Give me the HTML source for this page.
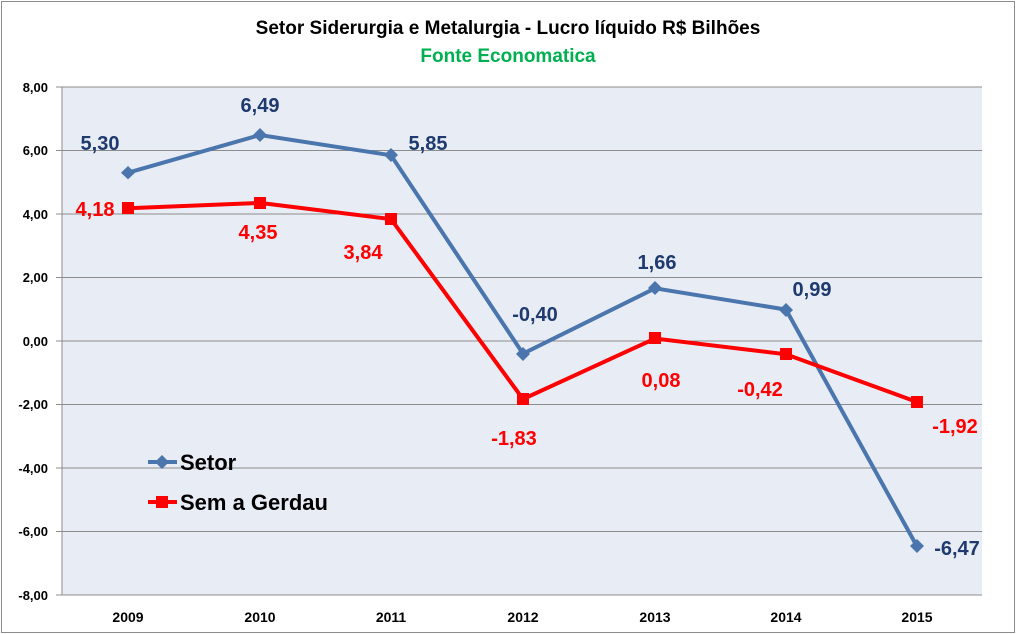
<!DOCTYPE html>
<html><head><meta charset="utf-8"><style>body{margin:0;background:#fff}svg{display:block}text{font-family:"Liberation Sans",sans-serif;font-weight:bold}</style></head><body>
<svg width="1016" height="634" xmlns="http://www.w3.org/2000/svg">
<rect x="1.5" y="1.5" width="1013" height="631" fill="#fff" stroke="#8c8c8c"/>
<text x="508" y="34" font-size="19" text-anchor="middle" fill="#000">Setor Siderurgia e Metalurgia - Lucro líquido R$ Bilhões</text>
<text x="508" y="62" font-size="19" text-anchor="middle" fill="#00b050">Fonte Economatica</text>
<rect x="62" y="87" width="920" height="508" fill="#e8ecf4"/>
<g stroke="#8c8c8c" stroke-width="1">
<line x1="56" y1="87" x2="982" y2="87"/><line x1="56" y1="150.5" x2="982" y2="150.5"/><line x1="56" y1="214" x2="982" y2="214"/><line x1="56" y1="277.5" x2="982" y2="277.5"/><line x1="56" y1="341" x2="982" y2="341"/><line x1="56" y1="404.5" x2="982" y2="404.5"/><line x1="56" y1="468" x2="982" y2="468"/><line x1="56" y1="531.5" x2="982" y2="531.5"/><line x1="56" y1="595" x2="982" y2="595"/>
<line x1="62" y1="87" x2="62" y2="595"/>
</g>
<g font-size="13" text-anchor="end" fill="#000">
<text x="48" y="92">8,00</text><text x="48" y="155">6,00</text><text x="48" y="219">4,00</text><text x="48" y="282">2,00</text><text x="48" y="346">0,00</text><text x="48" y="409">-2,00</text><text x="48" y="473">-4,00</text><text x="48" y="536">-6,00</text><text x="48" y="600">-8,00</text>
</g>
<g font-size="14" text-anchor="middle" fill="#000">
<text x="128" y="622">2009</text><text x="260" y="622">2010</text><text x="391" y="622">2011</text><text x="523" y="622">2012</text><text x="655" y="622">2013</text><text x="786" y="622">2014</text><text x="917" y="622">2015</text>
</g>
<polyline fill="none" stroke="#4a76ad" stroke-width="4" points="128,172.7 260,135 391,155.3 523,353.7 655,288.3 786,309.6 917,546.4"/>
<g fill="#4a76ad">
<path d="M128,166 l7,6.7 l-7,6.7 l-7,-6.7z"/><path d="M260,128 l7,7 l-7,7 l-7,-7z"/><path d="M391,148 l7,7 l-7,7 l-7,-7z"/><path d="M523,347 l7,7 l-7,7 l-7,-7z"/><path d="M655,281 l7,7 l-7,7 l-7,-7z"/><path d="M786,303 l7,7 l-7,7 l-7,-7z"/><path d="M917,539 l7,7 l-7,7 l-7,-7z"/>
</g>
<polyline fill="none" stroke="#ff0000" stroke-width="4" points="128,208.3 260,202.9 391,219.1 523,399.1 655,338.5 786,354.3 917,402"/>
<g fill="#ff0000">
<rect x="122" y="202" width="12" height="12"/><rect x="254" y="197" width="12" height="12"/><rect x="385" y="213" width="12" height="12"/><rect x="517" y="393" width="12" height="12"/><rect x="649" y="332" width="12" height="12"/><rect x="780" y="348" width="12" height="12"/><rect x="911" y="396" width="12" height="12"/>
</g>
<g font-size="20" text-anchor="middle" fill="#1f3a6e">
<text x="100" y="150">5,30</text><text x="260" y="112">6,49</text><text x="428" y="150">5,85</text><text x="535" y="321">-0,40</text><text x="657" y="269">1,66</text><text x="812" y="296">0,99</text><text x="957" y="555">-6,47</text>
</g>
<g font-size="20" text-anchor="middle" fill="#ff0000">
<text x="95" y="216">4,18</text><text x="258" y="239">4,35</text><text x="363" y="259">3,84</text><text x="514" y="445">-1,83</text><text x="661" y="387">0,08</text><text x="760" y="396">-0,42</text><text x="955" y="433">-1,92</text>
</g>
<line x1="148" y1="462" x2="177" y2="462" stroke="#4a76ad" stroke-width="4"/>
<path d="M162,455 l7,7 l-7,7 l-7,-7z" fill="#4a76ad"/>
<text x="180" y="470" font-size="22" fill="#000">Setor</text>
<line x1="148" y1="502" x2="177" y2="502" stroke="#ff0000" stroke-width="4"/>
<rect x="156" y="496" width="12" height="12" fill="#ff0000"/>
<text x="180" y="510" font-size="22" fill="#000">Sem a Gerdau</text>
</svg>
</body></html>
